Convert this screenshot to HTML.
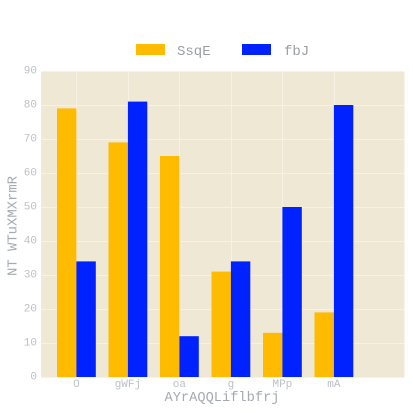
<!DOCTYPE html>
<html>
<head>
<meta charset="utf-8">
<style>
html,body{margin:0;padding:0;background:#fff;width:413px;height:413px;overflow:hidden}
svg{display:block}
text{font-family:"Liberation Mono",monospace}
</style>
</head>
<body>
<svg id="chart" width="413" height="413" viewBox="0 0 413 413" xmlns="http://www.w3.org/2000/svg"></svg>
<script>
const categories = ['O', 'gWFj', 'oa', 'g', 'MPp', 'mA'];
const seriesSsqE = [79, 69, 65, 31, 13, 19];
const seriesFbJ = [34, 81, 12, 34, 50, 80];
const yTicks = [0, 10, 20, 30, 40, 50, 60, 70, 80, 90];
const seriesNames = ['SsqE', 'fbJ'];
const xLabel = 'AYrAQQLiflbfrj';
const yLabel = 'NT WTuXMXrmR';

const NS = 'http://www.w3.org/2000/svg';
const svg = document.getElementById('chart');
const L = 41, R = 404.5, T = 71, B = 377;
const xScale = i => 76.4 + 51.5 * i;
const yScale = v => B - (v / 90) * (B - T);
const barW = 19.4;
const colors = ['#FFBB00', '#0022FF'];

function make(tag, attrs, txt) {
  const el = document.createElementNS(NS, tag);
  for (const k in attrs) el.setAttribute(k, attrs[k]);
  if (txt !== undefined) el.textContent = txt;
  svg.appendChild(el);
  return el;
}

const bg = make('rect', {x: L, y: T, width: R - L, height: B - T, fill: '#EEE8D5'});



yTicks.forEach(v => {
  const y = Math.round(yScale(v)) + 0.5;
  const g = make('line', {x1: L, x2: R, y1: y, y2: y, stroke: '#F6F2E6', 'stroke-width': 1});
  
  
  const t = make('text', {x: 37, y: yScale(v) + 2.5, 'text-anchor': 'end', 'font-size': 11, fill: '#BCC1C7'}, String(v));
  
  
});

categories.forEach((c, i) => {
  const x = Math.round(xScale(i)) + 0.5;
  const g = make('line', {x1: x, x2: x, y1: T, y2: B, stroke: '#F6F2E6', 'stroke-width': 1});
  
  
  const t = make('text', {x: xScale(i), y: 387, 'text-anchor': 'middle', 'font-size': 11, fill: '#BCC1C7'}, c);
  
  
});

[seriesSsqE, seriesFbJ].forEach((vals, s) => {
  vals.forEach((v, i) => {
    const x = s === 0 ? xScale(i) - barW : xScale(i);
    const r = make('rect', {x: x, y: yScale(v), width: barW, height: B - yScale(v), fill: colors[s]});
    
    
  });
});

const xt = make('text', {x: 222, y: 401, 'text-anchor': 'middle', 'font-size': 13.7, fill: '#A3AAB0'}, xLabel);



const yt = make('text', {x: 0, y: 0, 'text-anchor': 'middle', 'font-size': 13.9, fill: '#A3AAB0', transform: 'translate(16.5,226) rotate(-90)'}, yLabel);



const legendSwatchX = [136, 242];
const legendTextX = [177, 284];
seriesNames.forEach((n, s) => {
  const r = make('rect', {x: legendSwatchX[s], y: 44, width: 29, height: 11, fill: colors[s]});
  
  
  const t = make('text', {x: legendTextX[s], y: 55, 'font-size': 14, fill: '#989FA5'}, n);
  
  
});
</script>
</body>
</html>
